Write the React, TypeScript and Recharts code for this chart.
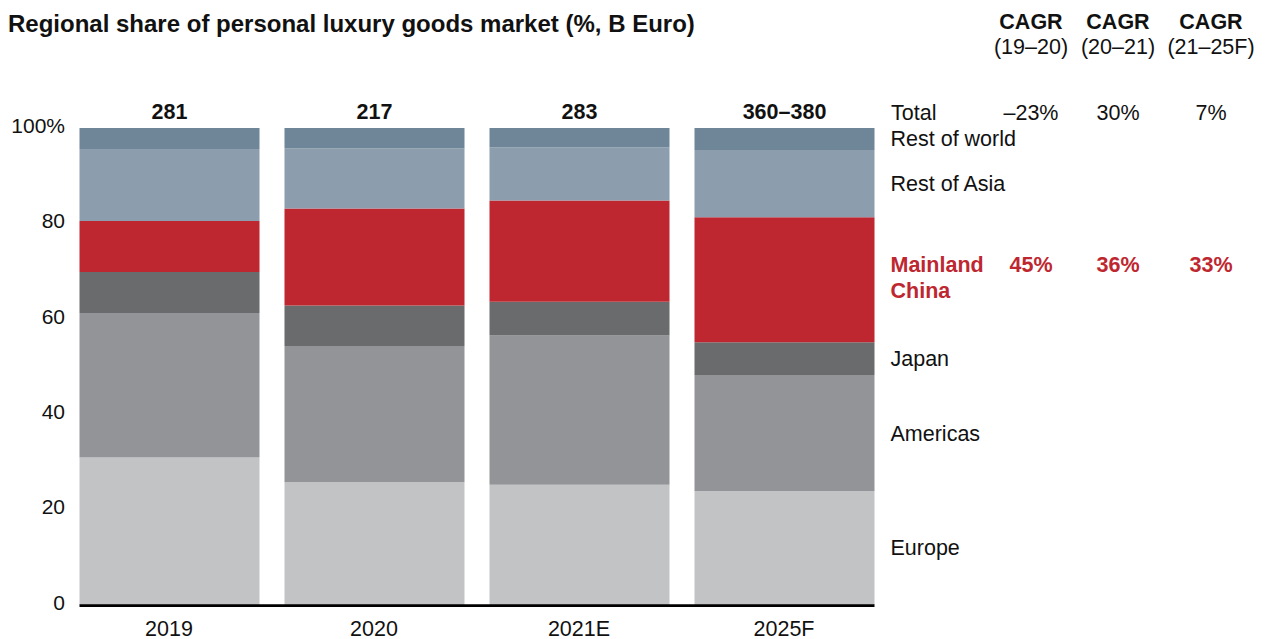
import React from 'react';
import { BarChart, Bar, XAxis, YAxis, LabelList } from 'recharts';

const categories = ['2019', '2020', '2021E', '2025F'];
const europe = [31.0, 25.8, 25.2, 23.9];
const americas = [30.2, 28.5, 31.3, 24.3];
const japan = [8.6, 8.5, 7.1, 6.9];
const china = [10.7, 20.3, 21.2, 26.2];
const restOfAsia = [15.1, 12.6, 11.1, 14.1];
const restOfWorld = [4.4, 4.3, 4.1, 4.6];
const totals = ['281', '217', '283', '360–380'];
const yTicks = [0, 20, 40, 60, 80, 100];
const cagrPeriods = ['(19–20)', '(20–21)', '(21–25F)'];
const totalCagr = ['–23%', '30%', '7%'];
const chinaCagr = ['45%', '36%', '33%'];

const FONT = '"Liberation Sans", Arial, Helvetica, sans-serif';
const RED = '#be2730';
const TEXT = '#111111';
const FS = 21.5;
const COLS = [1031, 1118, 1211];

const data = categories.map((c, i) => ({
  cat: c,
  europe: europe[i],
  americas: americas[i],
  japan: japan[i],
  china: china[i],
  restOfAsia: restOfAsia[i],
  restOfWorld: restOfWorld[i],
  total: totals[i],
}));

const last = categories.length - 1;

const EuropeShape = (props: any) => {
  const { x, y, width, height, fill, index } = props;
  const half = 12.5;
  return (
    <g>
      <rect x={x} y={y} width={width} height={height} fill={fill} />
      <line
        x1={x - (index > 0 ? half : 0)}
        x2={x + width + (index < last ? half : 0)}
        y1={y + height + 0.6}
        y2={y + height + 0.6}
        stroke="#000"
        strokeWidth={2.6}
      />
    </g>
  );
};

const sideLabel = (text: string) => (props: any) => {
  const { x, y, width, height, index } = props;
  if (index !== last) return null;
  return (
    <text x={x + width + 16} y={y + height / 2 + 7.5} fontFamily={FONT} fontSize={FS} fill={TEXT}>
      {text}
    </text>
  );
};

const chinaLabel = (props: any) => {
  const { x, y, width, height, index } = props;
  if (index !== last) return null;
  const mid = y + height / 2;
  return (
    <g fontFamily={FONT} fontSize={FS} fontWeight="bold" fill={RED}>
      <text x={x + width + 16} y={mid - 8}>Mainland</text>
      <text x={x + width + 16} y={mid + 18}>China</text>
      {chinaCagr.map((v, i) => (
        <text key={i} x={COLS[i]} y={mid - 8} textAnchor="middle">{v}</text>
      ))}
    </g>
  );
};

const totalLabel = (props: any) => {
  const { x, y, width, index } = props;
  return (
    <text x={x + width / 2} y={y - 9} textAnchor="middle" fontFamily={FONT} fontSize={FS} fontWeight="bold" fill={TEXT}>
      {totals[index]}
    </text>
  );
};

const YTick = (props: any) => {
  const { y, payload } = props;
  const v = payload.value;
  return (
    <text x={65} y={y + 4.8} textAnchor="end" fontFamily={FONT} fontSize={21} fill={TEXT}>
      {v === 100 ? '100%' : String(v)}
    </text>
  );
};

const XTick = (props: any) => {
  const { x, payload } = props;
  return (
    <text x={x} y={635.5} textAnchor="middle" fontFamily={FONT} fontSize={FS} fill={TEXT}>
      {payload.value}
    </text>
  );
};

export default function App() {
  return (
    <div style={{ position: 'absolute', left: 0, top: 0, width: 1266, height: 639, background: '#fff' }}>
      <BarChart
        width={1266}
        height={639}
        data={data}
        margin={{ top: 128, right: 379.5, bottom: 0, left: 0 }}
        barSize={180}
      >
        <XAxis dataKey="cat" height={34} axisLine={false} tickLine={false} tick={<XTick />} interval={0} />
        <YAxis
          width={66.5}
          domain={[0, 100]}
          ticks={yTicks}
          axisLine={false}
          tickLine={false}
          tick={<YTick />}
          interval={0}
        />
        <Bar dataKey="europe" stackId="a" fill="#c2c3c5" isAnimationActive={false} shape={<EuropeShape />}>
          <LabelList dataKey="europe" content={sideLabel('Europe')} />
        </Bar>
        <Bar dataKey="americas" stackId="a" fill="#939498" isAnimationActive={false}>
          <LabelList dataKey="americas" content={sideLabel('Americas')} />
        </Bar>
        <Bar dataKey="japan" stackId="a" fill="#6a6b6d" isAnimationActive={false}>
          <LabelList dataKey="japan" content={sideLabel('Japan')} />
        </Bar>
        <Bar dataKey="china" stackId="a" fill={RED} isAnimationActive={false}>
          <LabelList dataKey="china" content={chinaLabel} />
        </Bar>
        <Bar dataKey="restOfAsia" stackId="a" fill="#8c9eae" isAnimationActive={false}>
          <LabelList dataKey="restOfAsia" content={sideLabel('Rest of Asia')} />
        </Bar>
        <Bar dataKey="restOfWorld" stackId="a" fill="#6f8598" isAnimationActive={false}>
          <LabelList dataKey="restOfWorld" content={sideLabel('Rest of world')} />
          <LabelList dataKey="total" content={totalLabel} />
        </Bar>
      </BarChart>
      <svg
        width={1266}
        height={639}
        style={{ position: 'absolute', left: 0, top: 0, pointerEvents: 'none' }}
        fontFamily={FONT}
      >
        <text x={8} y={32} fontSize={24} fontWeight="bold" fill={TEXT}>
          Regional share of personal luxury goods market (%, B Euro)
        </text>
        {cagrPeriods.map((p, i) => (
          <g key={p}>
            <text x={COLS[i]} y={29} textAnchor="middle" fontSize={FS} fontWeight="bold" fill={TEXT}>CAGR</text>
            <text x={COLS[i]} y={54} textAnchor="middle" fontSize={FS} fill={TEXT}>{p}</text>
            <text x={COLS[i]} y={120} textAnchor="middle" fontSize={FS} fill={TEXT}>{totalCagr[i]}</text>
          </g>
        ))}
        <text x={891} y={120} fontSize={FS} fill={TEXT}>Total</text>
      </svg>
    </div>
  );
}
